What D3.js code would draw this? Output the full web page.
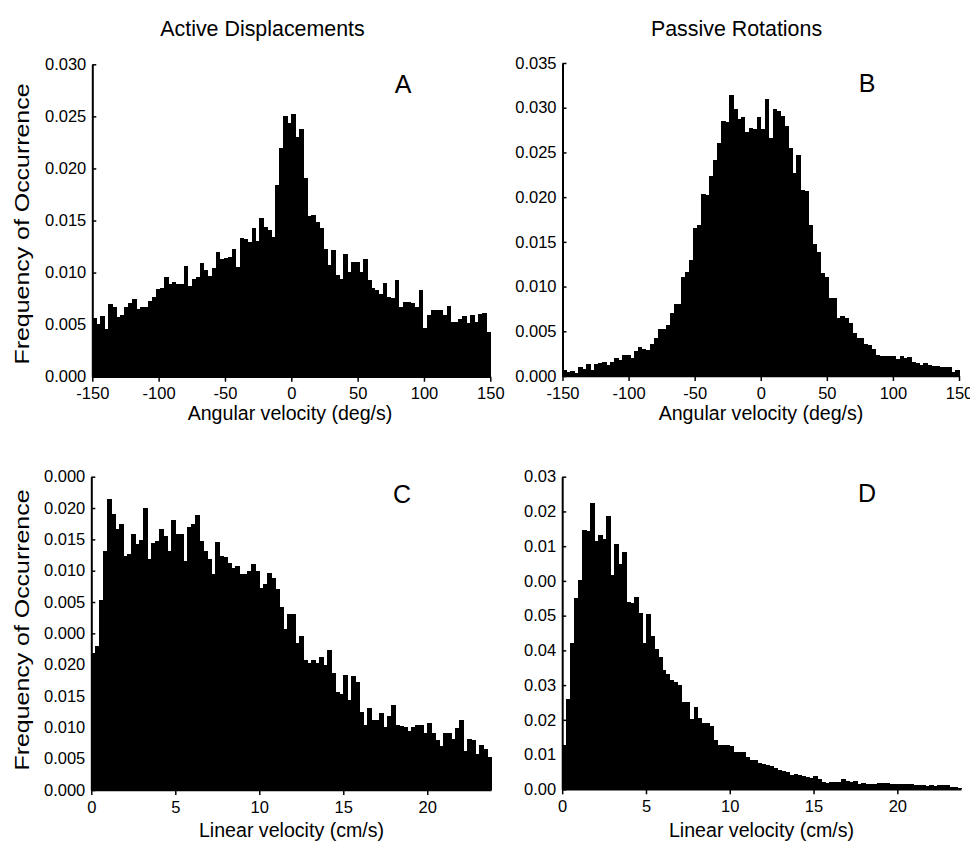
<!DOCTYPE html>
<html>
<head>
<meta charset="utf-8">
<script src="https://cdn.jsdelivr.net/npm/d3@7"></script>
<style>
    body { margin: 0; background: #fff; }
    svg { display: block; font-family: "Liberation Sans", Arial, Helvetica, sans-serif; }
    .axis path, .axis line { stroke: #000; }
    .axis text { fill: #000; font-size: 16.5px; font-family: "Liberation Sans", Arial, Helvetica, sans-serif; }
    .bar { fill: #000; shape-rendering: crispEdges; }
</style>
</head>
<body>
<div id="figure"></div>
<script>
/*global d3*/

// Frequency of occurrence, 100 bins per histogram
var activeAngular = [
    0.0056, 0.0051, 0.0058, 0.0046, 0.0070, 0.0067, 0.0057, 0.0059, 0.0067, 0.0071,
    0.0075, 0.0065, 0.0067, 0.0067, 0.0073, 0.0077, 0.0084, 0.0085, 0.0096, 0.0089,
    0.0091, 0.0089, 0.0089, 0.0106, 0.0087, 0.0094, 0.0096, 0.0109, 0.0102, 0.0097,
    0.0104, 0.0120, 0.0113, 0.0114, 0.0115, 0.0123, 0.0105, 0.0133, 0.0132, 0.0129,
    0.0143, 0.0130, 0.0152, 0.0144, 0.0141, 0.0134, 0.0184, 0.0220, 0.0250, 0.0244,
    0.0252, 0.0230, 0.0238, 0.0191, 0.0154, 0.0155, 0.0149, 0.0143, 0.0123, 0.0107,
    0.0122, 0.0098, 0.0094, 0.0118, 0.0101, 0.0110, 0.0110, 0.0101, 0.0113, 0.0093,
    0.0085, 0.0083, 0.0079, 0.0090, 0.0077, 0.0076, 0.0093, 0.0067, 0.0072, 0.0072,
    0.0071, 0.0067, 0.0083, 0.0047, 0.0059, 0.0064, 0.0064, 0.0064, 0.0059, 0.0068,
    0.0053, 0.0053, 0.0055, 0.0058, 0.0052, 0.0059, 0.0053, 0.0060, 0.0061, 0.0043
];

var passiveAngular = [
    0.0007, 0.0005, 0.0006, 0.0003, 0.0010, 0.0008, 0.0013, 0.0007, 0.0013, 0.0015,
    0.0016, 0.0012, 0.0016, 0.0020, 0.0018, 0.0023, 0.0023, 0.0020, 0.0028, 0.0032,
    0.0030, 0.0029, 0.0036, 0.0043, 0.0053, 0.0052, 0.0057, 0.0071, 0.0080, 0.0080,
    0.0111, 0.0116, 0.0130, 0.0165, 0.0169, 0.0203, 0.0202, 0.0224, 0.0242, 0.0261,
    0.0285, 0.0284, 0.0314, 0.0299, 0.0287, 0.0290, 0.0273, 0.0277, 0.0276, 0.0290,
    0.0276, 0.0310, 0.0266, 0.0299, 0.0296, 0.0291, 0.0280, 0.0255, 0.0227, 0.0247,
    0.0208, 0.0207, 0.0169, 0.0148, 0.0139, 0.0115, 0.0111, 0.0087, 0.0087, 0.0065,
    0.0067, 0.0065, 0.0059, 0.0048, 0.0043, 0.0043, 0.0036, 0.0035, 0.0030, 0.0024,
    0.0022, 0.0022, 0.0022, 0.0022, 0.0019, 0.0022, 0.0020, 0.0021, 0.0016, 0.0014,
    0.0012, 0.0014, 0.0012, 0.0011, 0.0011, 0.0010, 0.0010, 0.0010, 0.0005, 0.0007
];

var activeLinear = [
    0.0218, 0.0230, 0.0304, 0.0381, 0.0465, 0.0441, 0.0417, 0.0424, 0.0373, 0.0376,
    0.0408, 0.0393, 0.0399, 0.0450, 0.0368, 0.0394, 0.0397, 0.0417, 0.0405, 0.0381,
    0.0431, 0.0409, 0.0408, 0.0366, 0.0420, 0.0425, 0.0439, 0.0398, 0.0381, 0.0368,
    0.0345, 0.0396, 0.0373, 0.0372, 0.0363, 0.0354, 0.0357, 0.0344, 0.0345, 0.0349,
    0.0361, 0.0349, 0.0322, 0.0329, 0.0346, 0.0338, 0.0320, 0.0292, 0.0257, 0.0281,
    0.0281, 0.0235, 0.0245, 0.0208, 0.0202, 0.0208, 0.0202, 0.0213, 0.0200, 0.0223,
    0.0186, 0.0156, 0.0154, 0.0183, 0.0144, 0.0182, 0.0173, 0.0124, 0.0103, 0.0131,
    0.0111, 0.0111, 0.0123, 0.0101, 0.0118, 0.0136, 0.0103, 0.0102, 0.0101, 0.0094,
    0.0101, 0.0103, 0.0103, 0.0091, 0.0107, 0.0091, 0.0079, 0.0070, 0.0091, 0.0091,
    0.0082, 0.0099, 0.0111, 0.0063, 0.0082, 0.0080, 0.0058, 0.0072, 0.0066, 0.0052
];

var passiveLinear = [
    0.0128, 0.0259, 0.0420, 0.0550, 0.0603, 0.0746, 0.0744, 0.0825, 0.0716, 0.0732,
    0.0721, 0.0788, 0.0617, 0.0706, 0.0648, 0.0682, 0.0538, 0.0535, 0.0555, 0.0507,
    0.0422, 0.0504, 0.0441, 0.0403, 0.0380, 0.0344, 0.0332, 0.0315, 0.0310, 0.0300,
    0.0252, 0.0252, 0.0202, 0.0236, 0.0204, 0.0190, 0.0190, 0.0182, 0.0142, 0.0128,
    0.0128, 0.0127, 0.0125, 0.0108, 0.0108, 0.0106, 0.0092, 0.0084, 0.0083, 0.0077,
    0.0074, 0.0069, 0.0066, 0.0062, 0.0057, 0.0053, 0.0050, 0.0042, 0.0045, 0.0040,
    0.0037, 0.0036, 0.0033, 0.0037, 0.0031, 0.0020, 0.0019, 0.0021, 0.0021, 0.0020,
    0.0029, 0.0024, 0.0022, 0.0023, 0.0016, 0.0017, 0.0016, 0.0016, 0.0015, 0.0019,
    0.0018, 0.0019, 0.0016, 0.0014, 0.0015, 0.0016, 0.0014, 0.0015, 0.0012, 0.0011,
    0.0012, 0.0010, 0.0011, 0.0010, 0.0012, 0.0012, 0.0011, 0.0007, 0.0008, 0.0004
];

// tick labels as printed (the lower panels carry the original's odd labels)
var angularTicks = [-150, -100, -50, 0, 50, 100, 150],
    linearTicks = [0, 5, 10, 15, 20],
    aTickLabels = ["0.000", "0.005", "0.010", "0.015", "0.020", "0.025", "0.030"],
    bTickLabels = ["0.000", "0.005", "0.010", "0.015", "0.020", "0.025", "0.030", "0.035"],
    cTickLabels = ["0.000", "0.005", "0.010", "0.015", "0.020", "0.000", "0.005", "0.010", "0.015", "0.020", "0.000"],
    dTickLabels = ["0.00", "0.01", "0.02", "0.03", "0.04", "0.05", "0.00", "0.01", "0.02", "0.03"];

(function () {
    "use strict";

    var svg = d3.select("#figure").append("svg")
        .attr("width", 970)
        .attr("height", 844),

        panels = [
            { letter: "A", data: activeAngular, xDomain: [-150, 150], xTicks: angularTicks,
              yStep: 0.005, yLabels: aTickLabels, box: [92.3, 490.3, 64.3, 376.7], lx: 403, ly: 92.5 },
            { letter: "B", data: passiveAngular, xDomain: [-150, 150], xTicks: angularTicks,
              yStep: 0.005, yLabels: bTickLabels, box: [562.5, 959, 63, 376], lx: 867, ly: 91.5 },
            { letter: "C", data: activeLinear, xDomain: [0, 23.8], xTicks: linearTicks,
              yStep: 0.005, yLabels: cTickLabels, box: [91.3, 491.1, 476.7, 790], lx: 402, ly: 503 },
            { letter: "D", data: passiveLinear, xDomain: [0, 23.8], xTicks: linearTicks,
              yStep: 0.01, yLabels: dTickLabels, box: [562.2, 961, 476.7, 789.3], lx: 867, ly: 502 }
        ];

    panels.forEach(function (p) {
        var n = p.data.length,
            yMax = p.yStep * (p.yLabels.length - 1),
            binW = (p.xDomain[1] - p.xDomain[0]) / n,
            yVals = d3.range(p.yLabels.length).map(function (i) { return i * p.yStep; }),

            x = d3.scaleLinear().domain(p.xDomain).range([p.box[0], p.box[1]]),
            y = d3.scaleLinear().domain([0, yMax]).range([p.box[3], p.box[2]]),

            g = svg.append("g");

        g.selectAll(".bar")
            .data(p.data)
            .enter().append("rect")
            .attr("class", "bar")
            .attr("x", function (d, i) { return x(p.xDomain[0] + i * binW); })
            .attr("width", function (d, i) { return x(p.xDomain[0] + (i + 1) * binW) - x(p.xDomain[0] + i * binW) + 0.6; })
            .attr("y", function (d) { return y(d); })
            .attr("height", function (d) { return y(0) - y(d); });

        // plain hyphen for negatives, as in the original
        g.append("g")
            .attr("class", "x axis")
            .attr("transform", "translate(0," + p.box[3] + ")")
            .call(d3.axisBottom(x).tickValues(p.xTicks).tickSizeInner(5).tickSizeOuter(0).tickPadding(6)
                .tickFormat(function (d) { return String(d); }))
            .call(function (a) {
                a.select(".domain").attr("stroke-width", 1.5);
                a.selectAll(".tick line").attr("stroke-width", 1.5);
            });

        g.append("g")
            .attr("class", "y axis")
            .attr("transform", "translate(" + p.box[0] + ",0)")
            .call(d3.axisLeft(y).tickValues(yVals).tickSizeInner(-4).tickSizeOuter(0).tickPadding(6)
                .tickFormat(function (d, i) { return p.yLabels[i]; }))
            .call(function (a) {
                a.select(".domain").attr("stroke-width", 2);
                a.selectAll(".tick line").attr("stroke-width", 1.5);
            });

        g.append("text")
            .attr("x", p.lx)
            .attr("y", p.ly)
            .attr("text-anchor", "middle")
            .attr("font-size", 25)
            .text(p.letter);
    });

    // column titles
    svg.append("text").attr("x", 262.5).attr("y", 35.5).attr("text-anchor", "middle")
        .attr("font-size", 21.4).text("Active Displacements");
    svg.append("text").attr("x", 736.5).attr("y", 35.5).attr("text-anchor", "middle")
        .attr("font-size", 21.4).text("Passive Rotations");

    // x axis titles
    svg.append("text").attr("x", 290).attr("y", 420).attr("text-anchor", "middle")
        .attr("font-size", 19.6).text("Angular velocity (deg/s)");
    svg.append("text").attr("x", 761).attr("y", 420).attr("text-anchor", "middle")
        .attr("font-size", 19.6).text("Angular velocity (deg/s)");
    svg.append("text").attr("x", 291.5).attr("y", 837).attr("text-anchor", "middle")
        .attr("font-size", 19.6).text("Linear velocity (cm/s)");
    svg.append("text").attr("x", 761.5).attr("y", 837).attr("text-anchor", "middle")
        .attr("font-size", 19.6).text("Linear velocity (cm/s)");

    // y axis titles (stretched along the axis like the original)
    [224, 630].forEach(function (cy) {
        svg.append("text")
            .attr("transform", "translate(28.5," + cy + ") rotate(-90)")
            .attr("text-anchor", "middle")
            .attr("font-size", 20)
            .attr("textLength", 281)
            .attr("lengthAdjust", "spacingAndGlyphs")
            .text("Frequency of Occurrence");
    });
}());
</script>
</body>
</html>
